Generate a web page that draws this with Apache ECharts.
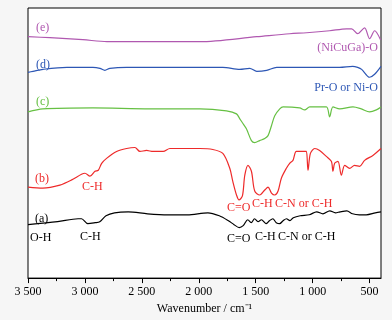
<!DOCTYPE html>
<html>
<head>
<meta charset="utf-8">
<script src="https://cdn.jsdelivr.net/npm/echarts@6/dist/echarts.min.js"></script>
<style>
  html, body { margin: 0; padding: 0; background: #f6f6f6; }
  #chart { width: 392px; height: 320px; }
</style>
</head>
<body>
<div id="chart"></div>
<script>
// wavenumber (cm-1) and offset transmittance for each spectrum
var traceA = [[3500,54],[3240,57],[3060,60],[3030,60],[2975,55],[2910,56],[2870,57],[2815,63],[2740,66],[2620,67],[2450,65],[2270,64],[2100,64],[1920,66],[1820,63],[1740,58],[1690,54],[1645,51],[1610,53],[1570,59],[1540,56],[1510,60],[1480,57],[1450,59],[1410,55],[1380,58],[1350,60],[1320,56],[1290,55],[1260,58],[1230,60],[1200,58],[1170,61],[1110,63],[1030,64],[965,67],[910,65],[850,68],[800,66],[760,67],[700,68],[650,65],[590,64],[530,64],[450,66],[400,67]];
var traceB = [[3500,92],[3370,91],[3220,94],[3120,99],[3030,105],[3000,106],[2956,103],[2912,108],[2883,109],[2853,116],[2810,121],[2722,128],[2634,131],[2561,132],[2517,128],[2459,129],[2401,128],[2313,128],[2254,131],[2108,131],[1991,131],[1877,130],[1789,126],[1728,111],[1702,98],[1669,84],[1647,79],[1617,83],[1596,104],[1568,114],[1538,108],[1509,88],[1465,84],[1421,89],[1392,92],[1362,86],[1333,84],[1304,88],[1275,101],[1231,111],[1202,116],[1173,119],[1143,128],[1070,128],[1055,128],[1041,109],[1020,126],[982,131],[939,129],[880,123],[836,118],[822,108],[807,116],[778,118],[748,104],[719,114],[675,111],[632,114],[588,113],[544,119],[471,124],[400,131]];
var traceC = [[3500,168],[3370,171],[2930,172],[2430,171],[1991,171],[1757,169],[1669,166],[1640,161],[1611,156],[1582,151],[1538,139],[1509,137],[1465,139],[1421,141],[1392,144],[1362,154],[1333,164],[1289,171],[1260,173],[1114,172],[1070,170],[1026,173],[880,173],[851,163],[822,173],[763,171],[646,173],[573,171],[500,168],[441,170],[400,173]];
var traceD = [[3500,208],[3456,209],[3368,211],[3158,213],[2930,213],[2868,212],[2825,210],[2781,212],[2634,213],[2283,213],[1789,213],[1640,211],[1553,212],[1491,209],[1404,210],[1316,213],[763,213],[649,214],[605,213],[570,211],[500,203],[456,206],[400,214]];
var traceE = [[3500,244],[3307,243],[3018,241],[2807,239],[2430,239],[1991,239],[1491,244],[1202,247],[1053,248],[851,250],[702,252],[658,252],[605,247],[544,253],[500,242],[456,250],[404,241]];
var majorTicks = [500, 1000, 1500, 2000, 2500, 3000, 3500];
var minorTicks = [750, 1250, 1750, 2250, 2750, 3250];

var colA = '#000000', colB = '#ee2a2a', colC = '#66c043', colD = '#2d57b5', colE = '#b058b0';
var serif = '"Liberation Serif", "Times New Roman", serif';

function tickLabel(v) {
    var s = String(v);
    return s.length > 3 ? s.slice(0, s.length - 3) + ' ' + s.slice(-3) : s;
}

function txt(x, y, s, color, align) {
    return {
        type: 'text', left: align === 'right' ? null : x, right: align === 'right' ? x : null, top: y,
        style: { text: s, fill: color, font: '12px ' + serif }
    };
}

var myChart = echarts.init(document.getElementById('chart'));
var option = {
    backgroundColor: '#f6f6f6',
    animation: false,
    grid: { left: 28, right: 11, top: 8, bottom: 39, show: true, backgroundColor: '#ffffff', borderColor: '#000', borderWidth: 1 },
    xAxis: [{
        type: 'value', inverse: true, min: 400, max: 3500,
        name: 'Wavenumber / cm\u207B\u00B9', nameLocation: 'middle', nameGap: 23,
        nameTextStyle: { fontFamily: serif, fontSize: 12, color: '#000' },
        axisLine: { lineStyle: { color: '#000', width: 1 } },
        axisTick: { customValues: majorTicks, length: 5, lineStyle: { color: '#000' } },
        axisLabel: { customValues: majorTicks, formatter: tickLabel, fontFamily: serif, fontSize: 12, color: '#000', margin: 8 },
        splitLine: { show: false }
    }, {
        type: 'value', inverse: true, min: 400, max: 3500, position: 'bottom', offset: 0,
        axisLine: { show: false },
        axisTick: { customValues: minorTicks, length: 3, lineStyle: { color: '#000' } },
        axisLabel: { show: false },
        splitLine: { show: false }
    }],
    yAxis: { type: 'value', min: 0, max: 273, show: false },
    series: [
        { name: '(a)', type: 'line', data: traceA, color: colA },
        { name: '(b)', type: 'line', data: traceB, color: colB },
        { name: '(c)', type: 'line', data: traceC, color: colC },
        { name: '(d)', type: 'line', data: traceD, color: colD },
        { name: '(e)', type: 'line', data: traceE, color: colE }
    ].map(function (s) {
        s.showSymbol = false;
        s.smooth = 0.3;
        s.lineStyle = { width: 1.2 };
        return s;
    }),
    graphic: [
        txt(36, 22, '(e)', colE),
        txt(36, 59, '(d)', colD),
        txt(36, 96, '(c)', colC),
        txt(35, 173, '(b)', colB),
        txt(35, 213, '(a)', colA),
        txt(14, 42, '(NiCuGa)-O', colE, 'right'),
        txt(14, 82, 'Pr-O or Ni-O', colD, 'right'),
        txt(82, 181, 'C-H', colB),
        txt(227, 202, 'C=O', colB),
        txt(252, 198, 'C-H', colB),
        txt(275, 198, 'C-N or C-H', colB),
        txt(30, 232, 'O-H', colA),
        txt(80, 231, 'C-H', colA),
        txt(227, 233, 'C=O', colA),
        txt(255, 231, 'C-H', colA),
        txt(278, 231, 'C-N or C-H', colA)
    ]
};
myChart.setOption(option);
</script>
</body>
</html>
